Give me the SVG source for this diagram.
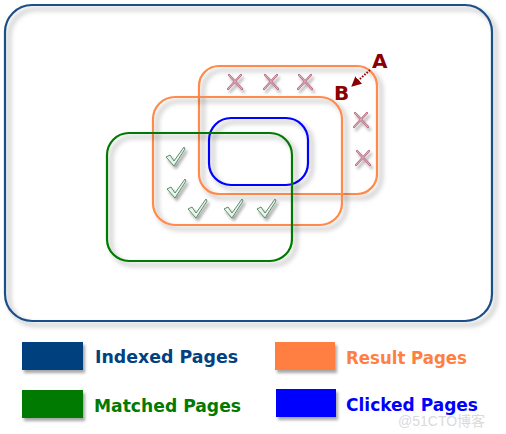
<svg xmlns="http://www.w3.org/2000/svg" width="506" height="434" viewBox="0 0 506 434">
<defs>
<filter id="sh" x="-20%" y="-20%" width="140%" height="140%">
<feDropShadow dx="4" dy="4" stdDeviation="2.5" flood-color="#000" flood-opacity="0.35"/>
</filter>
<filter id="shs" x="-50%" y="-50%" width="200%" height="200%">
<feDropShadow dx="2" dy="3" stdDeviation="1.5" flood-color="#000" flood-opacity="0.35"/>
</filter>
<marker id="ah" viewBox="0 0 10 10" refX="9" refY="5" markerWidth="5" markerHeight="5" orient="auto">
<path d="M0,0 L10,5 L0,10 z" fill="#8B0000"/>
</marker>
<g id="cross">
<path d="M-6,-7 L7,7 M6,-7 L-7,7" stroke="#B86A80" stroke-width="2.2" stroke-linecap="round" fill="none"/>
<path d="M-6,-7 L7,7 M6,-7 L-7,7" stroke="#F2D6DE" stroke-width="0.7" fill="none"/>
</g>
<g id="check">
<path d="M-9,0 L-5,-2 L-1,4 L9,-10 L10,-8 L-1,9 z" fill="#E6F6EA" stroke="#5D8A6A" stroke-width="1" stroke-linejoin="round"/>
</g>
</defs>
<style>
.set{fill:none;stroke-width:2.2}
.lt{font-family:"DejaVu Sans","Liberation Sans",sans-serif;font-weight:bold;font-size:18.5px}
.lbl{font-family:"DejaVu Sans","Liberation Sans",sans-serif;font-weight:bold;font-size:20px;fill:#8B0000}
</style>
<rect width="506" height="434" fill="#fff"/>
<g id="indexed"><rect x="5" y="5" width="487" height="316" rx="27" class="set" stroke="#1F5088" filter="url(#sh)"/></g>
<g id="result-a"><rect x="199" y="66" width="178" height="128" rx="20" class="set" stroke="#FF8A4C" filter="url(#sh)"/></g>
<g id="result-b"><rect x="153" y="97" width="189" height="128" rx="22" class="set" stroke="#FF8A4C" filter="url(#sh)"/></g>
<g id="clicked"><rect x="209" y="118" width="99" height="67" rx="22" class="set" stroke="#0000FF" filter="url(#sh)"/></g>
<g id="matched"><rect x="107" y="133" width="185" height="128" rx="22" class="set" stroke="#007A00" filter="url(#sh)"/></g>
<g id="crosses" filter="url(#shs)">
<use href="#cross" x="235" y="82"/>
<use href="#cross" x="271" y="82"/>
<use href="#cross" x="305" y="82"/>
<use href="#cross" x="361" y="120"/>
<use href="#cross" x="363" y="158"/>
</g>
<g id="checks" filter="url(#shs)">
<use href="#check" x="175" y="157"/>
<use href="#check" x="176" y="189"/>
<use href="#check" x="197" y="209"/>
<use href="#check" x="233" y="209"/>
<use href="#check" x="266" y="209"/>
</g>
<g id="label-a"><text x="372" y="68" class="lbl">A</text></g>
<g id="label-b"><text x="334" y="100" class="lbl">B</text></g>
<g id="connectors">
<line x1="370" y1="70" x2="352" y2="86" stroke="#8B0000" stroke-width="2" stroke-dasharray="1.5,1.5" marker-end="url(#ah)"/>
</g>
<g id="legend">
<rect x="22" y="342" width="61" height="28" fill="#02417F" filter="url(#shs)"/>
<text x="95" y="363" class="lt" fill="#02417F" textLength="143" lengthAdjust="spacingAndGlyphs">Indexed Pages</text>
<rect x="275" y="342" width="60" height="28" fill="#FF7F42" filter="url(#shs)"/>
<text x="346" y="364" class="lt" fill="#FF7F42" textLength="121" lengthAdjust="spacingAndGlyphs">Result Pages</text>
<rect x="22" y="390" width="61" height="28" fill="#007A00" filter="url(#shs)"/>
<text x="94" y="412" class="lt" fill="#007A00" textLength="147" lengthAdjust="spacingAndGlyphs">Matched Pages</text>
<rect x="276" y="389" width="60" height="28" fill="#0000FF" filter="url(#shs)"/>
<text x="346" y="411" class="lt" fill="#0000FF" textLength="132" lengthAdjust="spacingAndGlyphs">Clicked Pages</text>
</g>
<text x="398" y="426" font-family="'Liberation Sans','Noto Sans CJK SC',sans-serif" font-size="14" fill="#DADADA">@51CTO博客</text>
</svg>
